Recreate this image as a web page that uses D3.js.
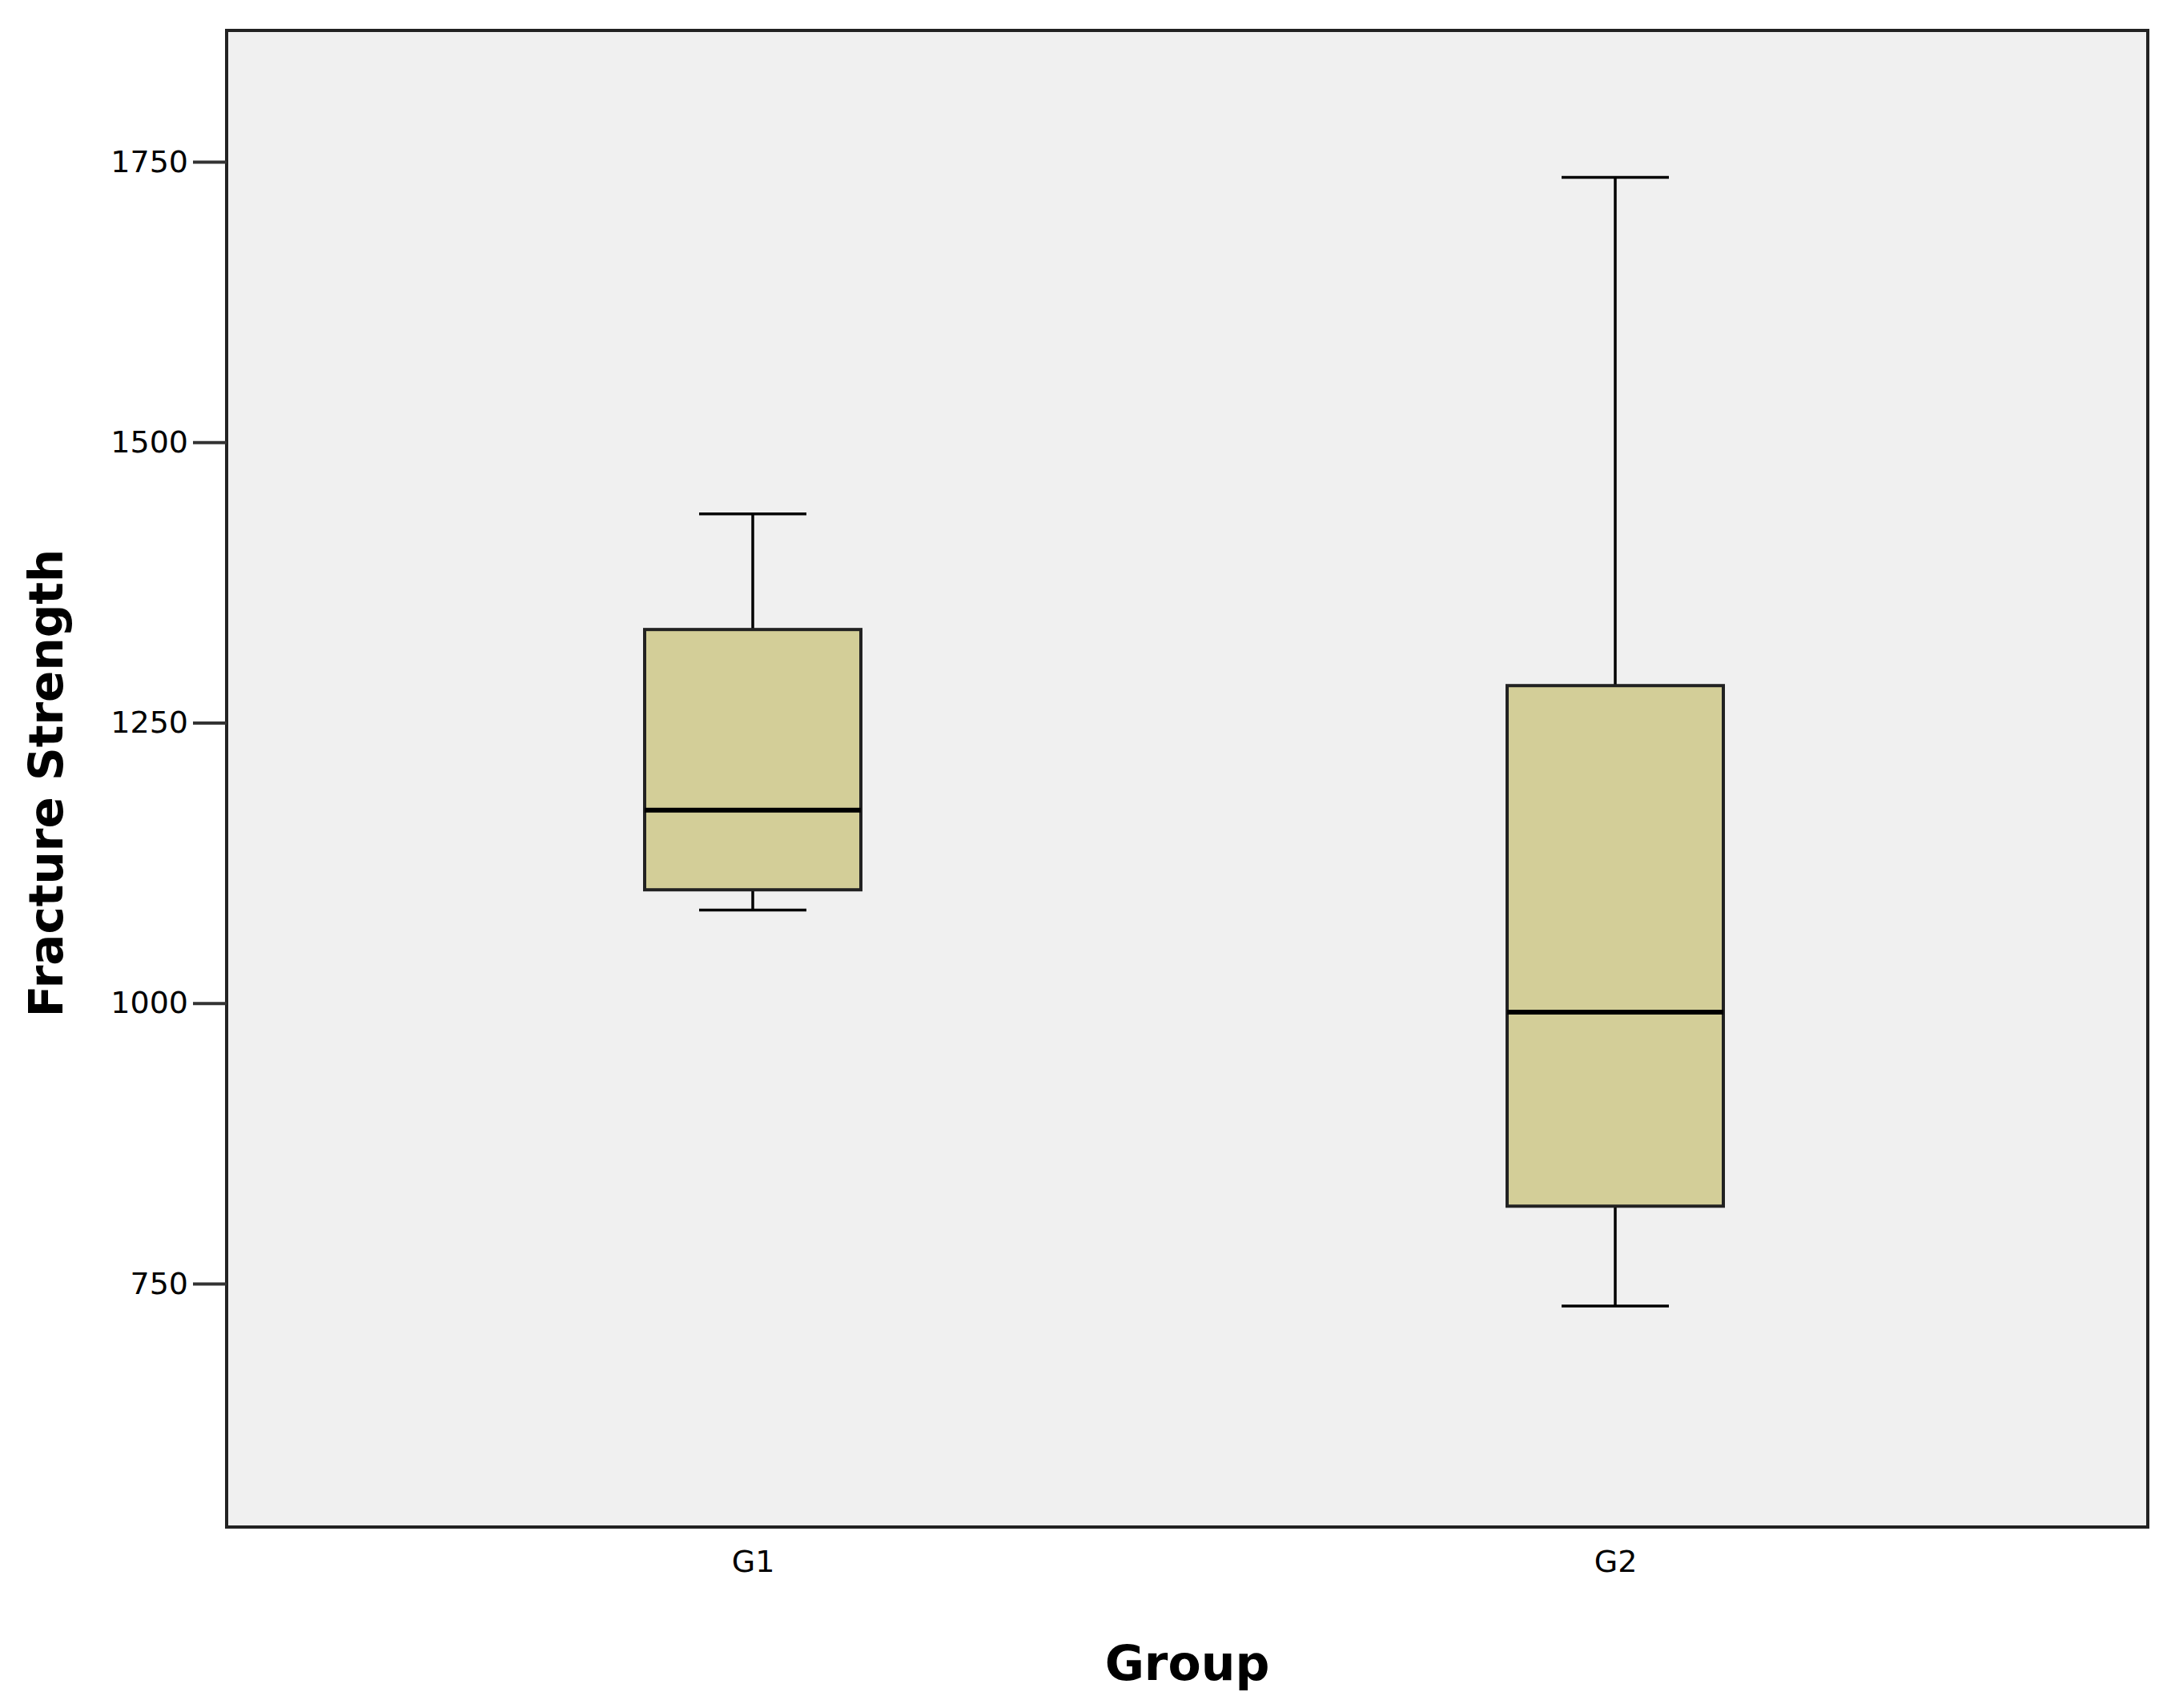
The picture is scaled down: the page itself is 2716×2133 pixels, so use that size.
<!DOCTYPE html>
<html>
<head>
<meta charset="utf-8">
<script src="https://cdn.jsdelivr.net/npm/d3@7"></script>
<style>
  body { margin: 0; background: #fff; }
</style>
</head>
<body>
<svg id="chart" width="2716" height="2133"></svg>
<script>
"use strict";

var groups = ["G1", "G2"];
var whiskerLow = [1083, 730];
var quartile1 = [1101, 819];
var medians = [1172, 992];
var quartile3 = [1333, 1283];
var whiskerHigh = [1436, 1736];
var yTicks = [750, 1000, 1250, 1500, 1750];

var margin = { left: 283, top: 38, right: 34, bottom: 226 };
var width = 2716, height = 2133;
var svg = d3.select("#chart");

var x = d3.scaleLinear().domain([0, 1]).range([940, 2017]);
var y = d3.scaleLinear().domain([533, 1867]).range([height - margin.bottom, margin.top]);

// plot background
svg.append("rect")
  .attr("x", margin.left).attr("y", margin.top)
  .attr("width", width - margin.right - margin.left)
  .attr("height", height - margin.bottom - margin.top)
  .attr("fill", "#f0f0f0")
  .attr("stroke", "#222").attr("stroke-width", 4);

// y axis
var yAxis = svg.append("g")
  .attr("transform", "translate(" + margin.left + ",0)")
  .call(d3.axisLeft(y).tickValues(yTicks).tickFormat(d3.format("d")).tickSize(42).tickPadding(6));
yAxis.select(".domain").remove();
yAxis.selectAll("line").attr("stroke", "#333").attr("stroke-width", 4);
yAxis.selectAll("text").attr("font-family", "DejaVu Sans").attr("font-size", 38).attr("fill", "#000");

// x axis
var xAxis = svg.append("g")
  .attr("transform", "translate(0," + (height - margin.bottom) + ")")
  .call(d3.axisBottom(x).tickValues([0, 1]).tickFormat(function(d) { return groups[d]; })
    .tickSize(0).tickPadding(22));
xAxis.select(".domain").remove();
xAxis.selectAll("text").attr("font-family", "DejaVu Sans").attr("font-size", 38).attr("fill", "#000")
  .attr("dy", "0.9em");

var boxW = 270, capW = 134;

var box = svg.selectAll(".box").data(groups).enter().append("g").attr("class", "box");

box.append("line")
  .attr("x1", function(d, i) { return x(i); }).attr("x2", function(d, i) { return x(i); })
  .attr("y1", function(d, i) { return y(whiskerLow[i]); })
  .attr("y2", function(d, i) { return y(whiskerHigh[i]); })
  .attr("stroke", "#000").attr("stroke-width", 3.5);

[whiskerLow, whiskerHigh].forEach(function(arr) {
  box.append("line")
    .attr("x1", function(d, i) { return x(i) - capW / 2; })
    .attr("x2", function(d, i) { return x(i) + capW / 2; })
    .attr("y1", function(d, i) { return y(arr[i]); })
    .attr("y2", function(d, i) { return y(arr[i]); })
    .attr("stroke", "#000").attr("stroke-width", 3.5);
});

box.append("rect")
  .attr("x", function(d, i) { return x(i) - boxW / 2; })
  .attr("y", function(d, i) { return y(quartile3[i]); })
  .attr("width", boxW)
  .attr("height", function(d, i) { return y(quartile1[i]) - y(quartile3[i]); })
  .attr("fill", "#d3ce98").attr("stroke", "#222").attr("stroke-width", 4);

box.append("line")
  .attr("x1", function(d, i) { return x(i) - boxW / 2; })
  .attr("x2", function(d, i) { return x(i) + boxW / 2; })
  .attr("y1", function(d, i) { return y(medians[i]); })
  .attr("y2", function(d, i) { return y(medians[i]); })
  .attr("stroke", "#000").attr("stroke-width", 6);

// axis titles
svg.append("text")
  .attr("x", (margin.left + width - margin.right) / 2).attr("y", 2098)
  .attr("text-anchor", "middle")
  .attr("font-family", "DejaVu Sans").attr("font-weight", "bold").attr("font-size", 60)
  .text("Group");

svg.append("text")
  .attr("transform", "translate(78,978) rotate(-90)")
  .attr("text-anchor", "middle")
  .attr("font-family", "DejaVu Sans").attr("font-weight", "bold").attr("font-size", 58)
  .text("Fracture Strength");
</script>
</body>
</html>
